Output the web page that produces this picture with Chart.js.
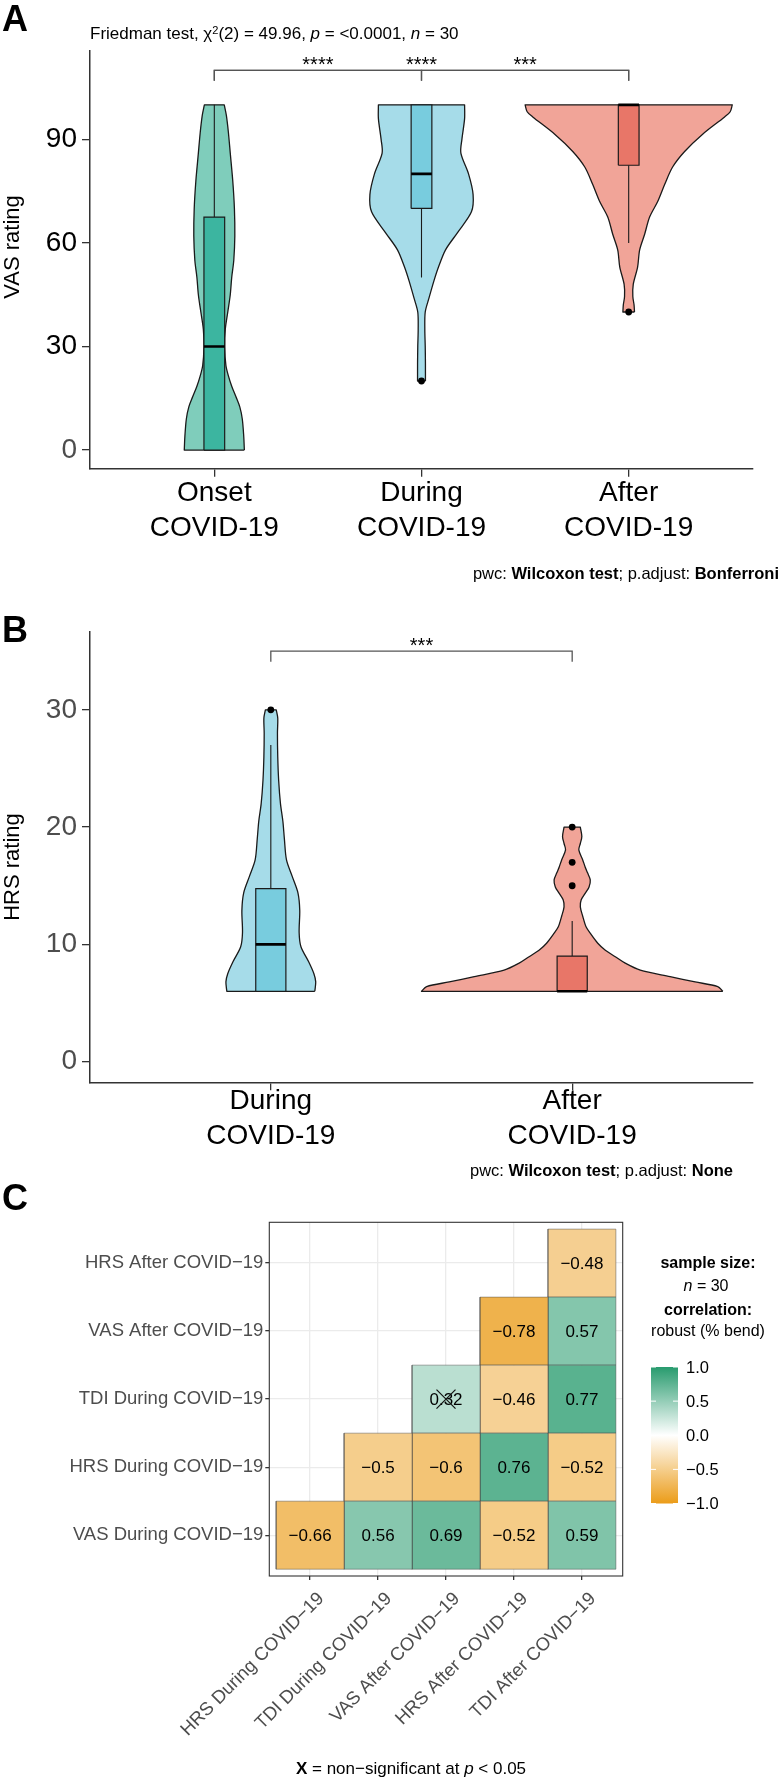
<!DOCTYPE html>
<html>
<head>
<meta charset="utf-8">
<title>VAS / HRS ratings and correlations</title>
<script src="https://cdn.jsdelivr.net/npm/chart.js@4.4.1/dist/chart.umd.min.js"></script>
<style>
  body { margin: 0; background: #fff; font-family: "Liberation Sans", Arial, sans-serif; }
  #page { position: relative; width: 780px; height: 1780px; overflow: hidden; }
  #page canvas { position: absolute; left: 0; }
  .txt { position: absolute; line-height: 1; white-space: nowrap; color: #000; transform: translateY(-50%); }
  .mid { transform: translate(-50%, -50%); }
  .rot { transform: translate(-50%, -50%) rotate(-90deg); font-size: 22px; }
  .tag { font-weight: bold; font-size: 36px; left: 2px; }
  .sup { position: relative; top: -0.45em; font-size: 0.65em; }
</style>
</head>
<body>
<div id="page">
  <canvas id="vas-chart" width="780" height="600" style="top:0"></canvas>
  <canvas id="hrs-chart" width="780" height="590" style="top:600px"></canvas>
  <canvas id="corr-chart" width="780" height="600" style="top:1180px"></canvas>

  <div class="txt tag" style="top:19px">A</div>
  <div class="txt" style="left:90px;top:33px;font-size:17px">Friedman test, χ<span class="sup">2</span>(2) = 49.96, <i>p</i> = &lt;0.0001, <i>n</i> = 30</div>
  <div class="txt rot" style="left:12px;top:247px">VAS rating</div>
  <div class="txt" style="right:1px;top:573px;font-size:16.5px">pwc: <b>Wilcoxon test</b>; p.adjust: <b>Bonferroni</b></div>

  <div class="txt tag" style="top:630px">B</div>
  <div class="txt rot" style="left:12px;top:867px">HRS rating</div>
  <div class="txt" style="right:47px;top:1170px;font-size:16.5px">pwc: <b>Wilcoxon test</b>; p.adjust: <b>None</b></div>

  <div class="txt tag" style="top:1198px">C</div>
  <div class="txt mid" style="left:708px;top:1263px;font-size:16px;font-weight:bold">sample size:</div>
  <div class="txt mid" style="left:706px;top:1286px;font-size:16px"><i>n</i> = 30</div>
  <div class="txt mid" style="left:708px;top:1310px;font-size:16px;font-weight:bold">correlation:</div>
  <div class="txt mid" style="left:708px;top:1331px;font-size:16px">robust (% bend)</div>
  <div class="txt mid" style="left:411px;top:1768px;font-size:17px"><b>X</b> = non−significant at <i>p</i> &lt; 0.05</div>
</div>

<script>
// ---------- Panel A: VAS rating ----------
const vasLabels = [['Onset', 'COVID-19'], ['During', 'COVID-19'], ['After', 'COVID-19']];
const vasTicks = [0, 30, 60, 90];
// violin outlines: rating level + half width (category units)
const vasOnsetLevels = [0, 4, 9, 12.5, 15.5, 18.5, 21.5, 24.5, 30, 35, 40, 45, 50, 55, 62, 70, 78, 86, 92, 97, 100];
const vasOnsetWidths = [0.145, 0.142, 0.135, 0.123, 0.104, 0.084, 0.068, 0.056, 0.05, 0.053, 0.065, 0.077, 0.084, 0.094, 0.099, 0.097, 0.089, 0.077, 0.068, 0.058, 0.048];
const vasDuringLevels = [20, 25, 30, 35, 40, 44, 49, 53, 58, 63, 69, 74, 80, 86, 90, 96, 100];
const vasDuringWidths = [0.019, 0.019, 0.018, 0.016, 0.018, 0.036, 0.06, 0.082, 0.116, 0.174, 0.241, 0.249, 0.227, 0.19, 0.195, 0.208, 0.208];
const vasAfterLevels = [40, 42, 44.5, 48, 53, 58, 62.5, 67.5, 72, 77, 82, 86.5, 91.5, 96.5, 98, 100];
const vasAfterWidths = [0.028, 0.026, 0.02, 0.022, 0.043, 0.053, 0.077, 0.101, 0.14, 0.174, 0.212, 0.27, 0.357, 0.463, 0.49, 0.5];
const vasQ1 = [0, 70, 82.5];
const vasMedian = [30, 80, 100];
const vasQ3 = [67.5, 100, 100];
const vasLower = [0, 50, 60];
const vasUpper = [100, 100, 100];
const vasOutliers = [[], [20], [40]];
const vasPairs = [[1, 2], [1, 3], [2, 3]];
const vasStars = ['****', '****', '***'];
const vasBracket = [110, 107]; // bracket top, tip

// ---------- Panel B: HRS rating ----------
const hrsLabels = [['During', 'COVID-19'], ['After', 'COVID-19']];
const hrsTicks = [0, 10, 20, 30];
const hrsDuringLevels = [6, 6.8, 7.5, 8.5, 9.8, 11, 12.9, 14.4, 15.8, 17.2, 19, 20.5, 22, 24, 26, 28, 29.3, 30];
const hrsDuringWidths = [0.146, 0.149, 0.143, 0.126, 0.1, 0.094, 0.096, 0.09, 0.071, 0.052, 0.045, 0.04, 0.032, 0.026, 0.023, 0.022, 0.023, 0.018];
const hrsAfterLevels = [6, 6.4, 6.8, 7.25, 7.8, 8.4, 8.95, 9.5, 10.1, 10.95, 11.5, 12.4, 13.2, 13.8, 14.35, 14.9, 15.5, 16.1, 16.6, 17.2, 18.05, 18.6, 19.2, 20];
const hrsAfterWidths = [0.5, 0.483, 0.408, 0.325, 0.226, 0.176, 0.143, 0.11, 0.085, 0.06, 0.046, 0.035, 0.027, 0.03, 0.043, 0.056, 0.06, 0.051, 0.043, 0.035, 0.022, 0.027, 0.032, 0.027];
const hrsQ1 = [6, 6];
const hrsMedian = [10, 6];
const hrsQ3 = [14.75, 9];
const hrsLower = [6, 6];
const hrsUpper = [27, 12];
const hrsOutliers = [[30], [15, 17, 20]];
const hrsPairs = [[1, 2]];
const hrsStars = ['***'];
const hrsBracket = [35, 34.1];

// ---------- Panel C: correlation matrix ----------
const corrRows = ['VAS During COVID−19', 'HRS During COVID−19', 'TDI During COVID−19', 'VAS After COVID−19', 'HRS After COVID−19'];
const corrCols = ['HRS During COVID−19', 'TDI During COVID−19', 'VAS After COVID−19', 'HRS After COVID−19', 'TDI After COVID−19'];
const corrValues = [
  [-0.66, 0.56, 0.69, -0.52, 0.59],
  [null, -0.5, -0.6, 0.76, -0.52],
  [null, null, 0.32, -0.46, 0.77],
  [null, null, null, -0.78, 0.57],
  [null, null, null, null, -0.48]
];
const corrNonSig = [[3, 3]]; // [row, col], 1-based
const legendTicks = [1, 0.5, 0, -0.5, -1];

const FONT = '"Liberation Sans", Arial, sans-serif';
Chart.defaults.font.family = FONT;

function minus(s) { return String(s).replace('-', '−'); }

// closed outline: right side bottom->top, left side top->bottom
function violinOutline(center, levels, widths) {
  const right = levels.map((v, i) => ({ x: center + widths[i], y: v }));
  const left = levels.map((v, i) => ({ x: center - widths[i], y: v })).reverse();
  return [...right, right[right.length - 1], left[0], ...left, left[left.length - 1], right[0], right[0]];
}

const starPlugin = {
  id: 'stars',
  afterDatasetsDraw(chart, args, opts) {
    const { ctx, scales } = chart;
    ctx.save();
    ctx.font = '20px ' + FONT;
    ctx.fillStyle = '#000';
    ctx.textAlign = 'center';
    ctx.textBaseline = 'alphabetic';
    opts.pairs.forEach((p, i) => {
      const x = scales.x.getPixelForValue((p[0] + p[1]) / 2);
      const y = scales.y.getPixelForValue(opts.level);
      ctx.fillText(opts.labels[i], x, y + 1);
    });
    ctx.restore();
  }
};

function violinChart(canvasId, cfg) {
  const bw = 0.05;
  const ink = '#1a1a1a';
  const datasets = [];
  cfg.groups.forEach((g, i) => {
    const c = i + 1;
    datasets.push({ data: violinOutline(c, g.levels, g.widths), fill: 'shape', backgroundColor: g.fill,
      borderColor: ink, borderWidth: 1.3, tension: 0.3, borderJoinStyle: 'round', order: 4 });
    datasets.push({ data: [{ x: c, y: cfg.lower[i] }, { x: c, y: cfg.q1[i] }], borderColor: ink, borderWidth: 1.1, order: 3 });
    datasets.push({ data: [{ x: c, y: cfg.q3[i] }, { x: c, y: cfg.upper[i] }], borderColor: ink, borderWidth: 1.1, order: 3 });
    datasets.push({ data: [
        { x: c - bw, y: cfg.q1[i] }, { x: c + bw, y: cfg.q1[i] }, { x: c + bw, y: cfg.q3[i] },
        { x: c - bw, y: cfg.q3[i] }, { x: c - bw, y: cfg.q1[i] }],
      fill: 'shape', backgroundColor: g.box, borderColor: ink, borderWidth: 1.2, order: 2 });
    datasets.push({ data: [{ x: c - bw, y: cfg.median[i] }, { x: c + bw, y: cfg.median[i] }], borderColor: '#000', borderWidth: 2.6, order: 1 });
    datasets.push({ data: cfg.outliers[i].map(v => ({ x: c, y: v })), showLine: false, pointRadius: 3.4,
      pointBackgroundColor: '#000', pointBorderWidth: 0, order: 0 });
  });
  cfg.pairs.forEach(p => {
    datasets.push({ data: [
        { x: p[0], y: cfg.bracket[1] }, { x: p[0], y: cfg.bracket[0] },
        { x: p[1], y: cfg.bracket[0] }, { x: p[1], y: cfg.bracket[1] }],
      borderColor: '#555', borderWidth: 1.3, order: 0 });
  });

  return new Chart(document.getElementById(canvasId), {
    type: 'line',
    data: { datasets },
    plugins: [starPlugin],
    options: {
      responsive: false,
      animation: false,
      events: [],
      layout: { padding: { top: cfg.top, right: 27, left: 0, bottom: 0 } },
      elements: { point: { radius: 0 }, line: { tension: 0, fill: false } },
      plugins: {
        legend: { display: false },
        tooltip: { enabled: false },
        stars: { pairs: cfg.pairs, labels: cfg.stars, level: cfg.bracket[0] }
      },
      scales: {
        x: {
          type: 'linear',
          min: 0.4,
          max: cfg.labels.length + 0.6,
          afterFit: s => { s.height = cfg.xHeight; },
          afterBuildTicks: s => { s.ticks = cfg.labels.map((l, i) => ({ value: i + 1 })); },
          ticks: {
            callback: v => cfg.labels[v - 1],
            font: { size: 28, lineHeight: 1.25 },
            color: '#000',
            padding: cfg.xPad,
            autoSkip: false,
            maxRotation: 0
          },
          grid: { drawOnChartArea: false, tickLength: 8, color: '#333', lineWidth: 1.3 },
          border: { color: '#333', width: 1.5 }
        },
        y: {
          type: 'linear',
          min: cfg.yMin,
          max: cfg.yMax,
          afterFit: s => { s.width = 90; },
          afterBuildTicks: s => { s.ticks = cfg.ticks.map(v => ({ value: v })); },
          ticks: {
            font: { size: 28 },
            color: cfg.tickColor,
            padding: 5
          },
          grid: { drawOnChartArea: false, tickLength: 8, color: '#333', lineWidth: 1.3 },
          border: { color: '#333', width: 1.5 }
        }
      }
    }
  });
}

document.addEventListener('DOMContentLoaded', () => {
  violinChart('vas-chart', {
    labels: vasLabels, ticks: vasTicks,
    groups: [
      { levels: vasOnsetLevels, widths: vasOnsetWidths, fill: '#7fcdbb', box: '#3cb5a0' },
      { levels: vasDuringLevels, widths: vasDuringWidths, fill: '#a6dce9', box: '#78ccde' },
      { levels: vasAfterLevels, widths: vasAfterWidths, fill: '#f1a498', box: '#e87668' }
    ],
    q1: vasQ1, median: vasMedian, q3: vasQ3, lower: vasLower, upper: vasUpper, outliers: vasOutliers,
    pairs: vasPairs, stars: vasStars, bracket: vasBracket,
    yMin: -5.4, yMax: 115.6, top: 51, xHeight: 131.3, xPad: -1,
    tickColor: ctx => (ctx.tick && ctx.tick.value === 0 ? '#4d4d4d' : '#000')
  });

  violinChart('hrs-chart', {
    labels: hrsLabels, ticks: hrsTicks,
    groups: [
      { levels: hrsDuringLevels, widths: hrsDuringWidths, fill: '#a6dce9', box: '#78ccde' },
      { levels: hrsAfterLevels, widths: hrsAfterWidths, fill: '#f1a498', box: '#e87668' }
    ],
    q1: hrsQ1, median: hrsMedian, q3: hrsQ3, lower: hrsLower, upper: hrsUpper, outliers: hrsOutliers,
    pairs: hrsPairs, stars: hrsStars, bracket: hrsBracket,
    yMin: -1.76, yMax: 36.66, top: 31.7, xHeight: 107.7, xPad: -7,
    tickColor: '#4d4d4d'
  });

  corrChart();
});

function corrColor(r) {
  const end = r < 0 ? [235, 156, 25] : [40, 155, 110];
  const t = Math.min(1, Math.abs(r));
  const ch = end.map(e => Math.round(255 - t * (255 - e)));
  return `rgb(${ch[0]},${ch[1]},${ch[2]})`;
}

function corrChart() {
  const datasets = [];
  corrValues.forEach((row, ri) => {
    row.forEach((v, ci) => {
      if (v === null) return;
      const x = ci + 1, y = ri + 1;
      datasets.push({
        data: [{ x: x - 0.5, y: y - 0.5 }, { x: x + 0.5, y: y - 0.5 }, { x: x + 0.5, y: y + 0.5 },
               { x: x - 0.5, y: y + 0.5 }, { x: x - 0.5, y: y - 0.5 }],
        fill: 'shape',
        backgroundColor: corrColor(v),
        borderColor: 'rgba(70,70,70,0.45)',
        borderWidth: 1
      });
    });
  });

  const cellPlugin = {
    id: 'cells',
    afterDatasetsDraw(chart) {
      const { ctx, scales, chartArea } = chart;
      ctx.save();
      ctx.font = '17px ' + FONT;
      ctx.fillStyle = '#000';
      ctx.textAlign = 'center';
      ctx.textBaseline = 'middle';
      corrValues.forEach((row, ri) => {
        row.forEach((v, ci) => {
          if (v === null) return;
          ctx.fillText(minus(v), scales.x.getPixelForValue(ci + 1), scales.y.getPixelForValue(ri + 1) + 1);
        });
      });
      // non-significant crosses
      ctx.strokeStyle = '#111';
      ctx.lineWidth = 1.2;
      corrNonSig.forEach(([r, c]) => {
        const cx = scales.x.getPixelForValue(c), cy = scales.y.getPixelForValue(r);
        ctx.beginPath();
        ctx.moveTo(cx - 9.5, cy - 9.5); ctx.lineTo(cx + 9.5, cy + 9.5);
        ctx.moveTo(cx + 9.5, cy - 9.5); ctx.lineTo(cx - 9.5, cy + 9.5);
        ctx.stroke();
      });
      // panel border
      ctx.strokeStyle = '#333';
      ctx.lineWidth = 1.1;
      ctx.strokeRect(chartArea.left, chartArea.top, chartArea.right - chartArea.left, chartArea.bottom - chartArea.top);

      // colour bar legend
      const bx = 651, bw = 27, top = 187, bottom = 323.5;
      const grad = ctx.createLinearGradient(0, top, 0, bottom);
      legendTicks.forEach(v => grad.addColorStop((1 - v) / 2, corrColor(v)));
      ctx.fillStyle = grad;
      ctx.fillRect(bx, top, bw, bottom - top);
      ctx.font = '16.5px ' + FONT;
      ctx.textAlign = 'left';
      ctx.fillStyle = '#000';
      ctx.strokeStyle = '#fff';
      ctx.lineWidth = 1;
      legendTicks.forEach(v => {
        const y = top + (1 - v) / 2 * (bottom - top);
        ctx.beginPath();
        ctx.moveTo(bx, y); ctx.lineTo(bx + 5, y);
        ctx.moveTo(bx + bw - 5, y); ctx.lineTo(bx + bw, y);
        ctx.stroke();
        ctx.fillText(minus(v.toFixed(1)), 686, y + 1);
      });
      ctx.restore();
    }
  };

  new Chart(document.getElementById('corr-chart'), {
    type: 'line',
    data: { datasets },
    plugins: [cellPlugin],
    options: {
      responsive: false,
      animation: false,
      events: [],
      layout: { padding: { top: 42.3, right: 157.3, left: 0, bottom: 0 } },
      elements: { point: { radius: 0 }, line: { tension: 0 } },
      plugins: { legend: { display: false }, tooltip: { enabled: false } },
      scales: {
        x: {
          type: 'linear',
          min: 0.4,
          max: 5.6,
          afterFit: s => { s.height = 204; },
          afterBuildTicks: s => { s.ticks = corrCols.map((c, i) => ({ value: i + 1 })); },
          ticks: {
            callback: v => corrCols[v - 1],
            font: { size: 18.5 },
            color: '#4d4d4d',
            minRotation: 45,
            maxRotation: 45,
            autoSkip: false,
            padding: 8,
            labelOffset: 11
          },
          grid: { color: '#ebebeb', lineWidth: 1.3, tickColor: '#333', tickLength: 4 },
          border: { display: false }
        },
        y: {
          type: 'linear',
          min: 0.4,
          max: 5.6,
          afterFit: s => { s.width = 269.3; },
          afterBuildTicks: s => { s.ticks = corrRows.map((r, i) => ({ value: i + 1 })); },
          ticks: {
            callback: v => corrRows[v - 1],
            font: { size: 18.5 },
            color: '#4d4d4d',
            padding: 2
          },
          grid: { color: '#ebebeb', lineWidth: 1.3, tickColor: '#333', tickLength: 4 },
          border: { display: false }
        }
      }
    }
  });
}
</script>
</body>
</html>
